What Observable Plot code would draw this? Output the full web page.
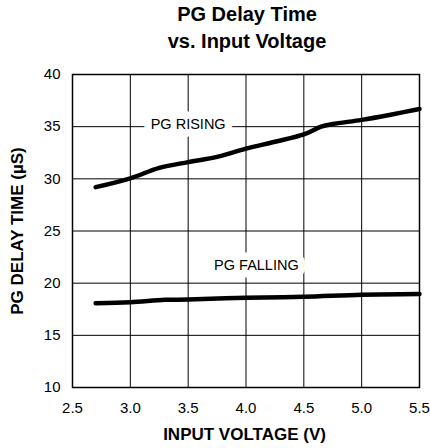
<!DOCTYPE html>
<html><head><meta charset="utf-8">
<script src="https://cdn.jsdelivr.net/npm/d3@7"></script>
<script src="https://cdn.jsdelivr.net/npm/@observablehq/plot@0.6"></script>
<style>
body{margin:0;background:#fff;font-family:"Liberation Sans",Arial,sans-serif;}
#title{width:430px;box-sizing:border-box;padding:1px 0 0 64px;text-align:center;font-weight:bold;font-size:20px;line-height:27px;height:56px;color:#000;}
#chart svg{display:block;}
</style></head><body>
<div id="title"></div>
<div id="chart"></div>
<script>
const titleLines = ["PG Delay Time", "vs. Input Voltage"];
const xTicks = [2.5, 3.0, 3.5, 4.0, 4.5, 5.0, 5.5];
const yTicks = [10, 15, 20, 25, 30, 35, 40];
const risingV = [2.7, 3.0, 3.25, 3.5, 3.75, 4.0, 4.25, 4.5, 4.65, 4.75, 5.0, 5.25, 5.5];
const risingT = [29.2, 30.05, 31.05, 31.6, 32.1, 32.9, 33.55, 34.25, 35.0, 35.25, 35.65, 36.15, 36.7];
const fallingV = [2.7, 3.0, 3.3, 3.5, 4.0, 4.5, 5.0, 5.5];
const fallingT = [18.07, 18.17, 18.4, 18.43, 18.6, 18.7, 18.9, 18.97];
const labelText = ["PG RISING", "PG FALLING"];
const labelV = [3.5, 4.09];
const labelT = [35.2, 21.7];
const xLabel = "INPUT VOLTAGE (V)";
const yLabel = "PG DELAY TIME (µS)";

document.getElementById("title").innerHTML = titleLines.map(t => `<div>${t}</div>`).join("");

const rising = risingV.map((v, i) => ({v, t: risingT[i]}));
const falling = fallingV.map((v, i) => ({v, t: fallingT[i]}));
const labels = labelText.map((s, i) => ({s, v: labelV[i], t: labelT[i]}));

const chart = Plot.plot({
  width: 430,
  height: 392,
  marginTop: 18,
  marginBottom: 61,
  marginLeft: 72,
  marginRight: 11,
  style: {fontFamily: "'Liberation Sans', Arial, sans-serif", fontSize: "15px", background: "white", color: "black", overflow: "visible"},
  x: {domain: [2.5, 5.5]},
  y: {domain: [10, 40]},
  marks: [
    Plot.ruleX(xTicks.slice(1, -1), {stroke: "black", strokeWidth: 1}),
    Plot.ruleY(yTicks.slice(1, -1), {stroke: "black", strokeWidth: 1}),
    Plot.text(labels, {x: "v", y: "t", text: "s", fill: "black", stroke: "white", strokeWidth: 15, fontSize: 14.5, textAnchor: "middle", lineAnchor: "middle"}),
    Plot.frame({stroke: "black", strokeWidth: 1.5}),
    Plot.line(rising, {x: "v", y: "t", stroke: "black", strokeWidth: 4.5, curve: "catmull-rom", strokeLinecap: "round"}),
    Plot.line(falling, {x: "v", y: "t", stroke: "black", strokeWidth: 4.5, curve: "catmull-rom", strokeLinecap: "round"}),
    Plot.axisX({ticks: xTicks, tickFormat: d3.format(".1f"), tickSize: 0, tickPadding: 15, fontSize: 15, label: null}),
    Plot.axisY({ticks: yTicks, tickSize: 0, tickPadding: 12, fontSize: 15, label: null}),
    Plot.text([xLabel], {text: d => d, frameAnchor: "bottom", dy: 46.7, dx: -1.5, lineAnchor: "middle", fontWeight: "bold", fontSize: 17}),
    Plot.text([yLabel], {text: d => d, frameAnchor: "left", rotate: -90, dx: -54.5, lineAnchor: "middle", textAnchor: "middle", fontWeight: "bold", fontSize: 17})
  ]
});
document.getElementById("chart").appendChild(chart);
</script>
</body></html>
